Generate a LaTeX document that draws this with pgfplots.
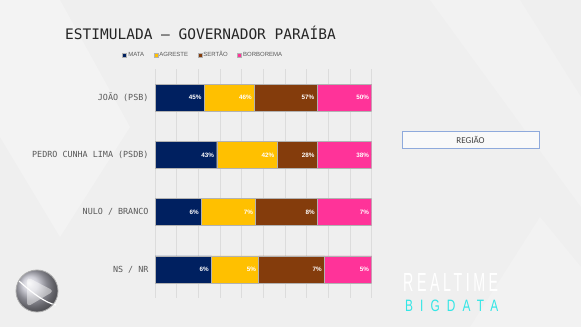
\documentclass[border=0pt]{standalone}
\usepackage{graphicx}
\usepackage{fontspec}
\setmainfont{Liberation Sans}
\newfontfamily\monofont{DejaVu Sans Mono}
\newfontfamily\calfont{Carlito}
\usepackage{pgfplots}
\usepackage{pgfplotstable}
\pgfplotsset{compat=1.18}
\definecolor{cmata}{HTML}{002060}
\definecolor{cagreste}{HTML}{FFC000}
\definecolor{csertao}{HTML}{843C0C}
\definecolor{cborb}{HTML}{FF3399}
\definecolor{bgc}{HTML}{EFEFEF}
\definecolor{gridc}{HTML}{DCDCDC}
\definecolor{txtc}{HTML}{595959}
\definecolor{boxc}{HTML}{8FAADC}
\definecolor{cyanc}{HTML}{33E6E6}

\pgfplotstableread{
cat mata agreste sertao borb
0 45 46 57 50
1 43 42 28 38
2 6 7 8 7
3 6 5 7 5
}\data
\newcommand{\tot}{(\thisrow{mata}+\thisrow{agreste}+\thisrow{sertao}+\thisrow{borb})}

\pgfplotsset{
  frame/.style={
    at={(155bp,29bp)}, anchor=south west,
    scale only axis, width=216.6bp, height=229bp,
    xmin=0, xmax=100, ymin=-0.5, ymax=3.5, y dir=reverse,
  },
  lbl/.style={only marks, mark=*, mark size=0pt, mark options={draw=none, fill=none},
    point meta=explicit symbolic,
    nodes near coords={\pgfplotspointmeta\%},
    every node near coord/.append style={anchor=east, xshift=-2.5bp, text=white,
      inner sep=0pt, font=\bfseries\fontsize{6.3bp}{7bp}\selectfont}},
}

\begin{document}
\begin{tikzpicture}
\useasboundingbox (0,0) rectangle (581bp,327bp);
\fill[bgc] (0,0) rectangle (581bp,327bp);
% faint background facets
\fill[white,opacity=0.25] (0,327bp) -- (60bp,327bp) -- (130bp,200bp) -- (60bp,90bp) -- (0,190bp) -- cycle;
\fill[white,opacity=0.2] (430bp,327bp) -- (520bp,327bp) -- (581bp,230bp) -- (581bp,120bp) -- cycle;
\fill[white,opacity=0.2] (470bp,0) -- (540bp,110bp) -- (581bp,60bp) -- (581bp,0) -- cycle;

\node[anchor=base west,inner sep=0,text=black!85] at (65bp,287bp)
  {\monofont\fontsize{14.5bp}{17bp}\selectfont ESTIMULADA — GOVERNADOR PARAÍBA};

\begin{axis}[
  frame,
  xbar stacked, bar width=27bp,
  xtick={0,10,...,100}, xticklabels={},
  xmajorgrids, grid style={gridc, line width=0.6bp},
  ytick={0,1,2,3},
  yticklabels={JOÃO (PSB), PEDRO CUNHA LIMA (PSDB), NULO / BRANCO, NS / NR},
  yticklabel style={font=\monofont\fontsize{8.4bp}{10bp}\selectfont, text=txtc, xshift=-3bp},
  major tick length=0pt,
  axis line style={draw=none},
  legend columns=4,
  legend style={at={(0.222,1.061)}, anchor=center, draw=none, fill=none,
     font=\fontsize{6bp}{7bp}\selectfont, text=txtc, inner sep=0pt,
     /tikz/every even column/.append style={column sep=8bp},
     nodes={inner xsep=1.5bp, inner ysep=0pt}},
  legend image code/.code={\fill[#1] (0bp,-2bp) rectangle (4bp,2bp);},
  every axis plot/.append style={draw=black!30, line width=0.3bp},
]
\addplot[fill=cmata] table[y=cat, x expr={100*\thisrow{mata}/\tot}] \data;
\addplot[fill=cagreste] table[y=cat, x expr={100*\thisrow{agreste}/\tot}] \data;
\addplot[fill=csertao] table[y=cat, x expr={100*\thisrow{sertao}/\tot}] \data;
\addplot[fill=cborb] table[y=cat, x expr={100*\thisrow{borb}/\tot}] \data;
\legend{MATA, AGRESTE, SERTÃO, BORBOREMA}
\end{axis}

% value labels at the end of each segment
\begin{axis}[frame, hide axis]
\addplot[lbl] table[y=cat, x expr={100*\thisrow{mata}/\tot}, meta=mata] \data;
\addplot[lbl] table[y=cat, x expr={100*(\thisrow{mata}+\thisrow{agreste})/\tot}, meta=agreste] \data;
\addplot[lbl] table[y=cat, x expr={100*(\thisrow{mata}+\thisrow{agreste}+\thisrow{sertao})/\tot}, meta=sertao] \data;
\addplot[lbl] table[y=cat, x expr={100}, meta=borb] \data;
\end{axis}

% region box
\draw[boxc, fill=white!60!bgc, line width=0.8bp] (402bp,179bp) rectangle (539bp,196bp);
\node[text=black!75, inner sep=0] at (470.5bp,187.5bp) {\calfont\fontsize{9bp}{10bp}\selectfont REGIÃO};

% logo left
\shade[ball color=blue!10!gray!45] (37bp,36bp) circle (21bp);
\fill[white, opacity=0.45, rounded corners=4bp] (27bp,50bp) -- (54bp,36bp) -- (27bp,20bp) -- cycle;
\draw[white, line width=1.2bp] (19bp,46bp) .. controls (30bp,36bp) and (45bp,24bp) .. (56bp,22bp);
\draw[gray!65, line width=0.8bp] (37bp,36bp) circle (21bp);

% brand
\node[anchor=south west, inner sep=0, text=white] at (403bp,35bp)
  {\resizebox{95bp}{18bp}{\addfontfeature{LetterSpace=25}REALTIME}};
\node[anchor=south west, inner sep=0, text=cyanc] at (405bp,15bp)
  {\resizebox{93bp}{11.5bp}{\addfontfeature{LetterSpace=60}BIGDATA}};
\end{tikzpicture}
\end{document}
